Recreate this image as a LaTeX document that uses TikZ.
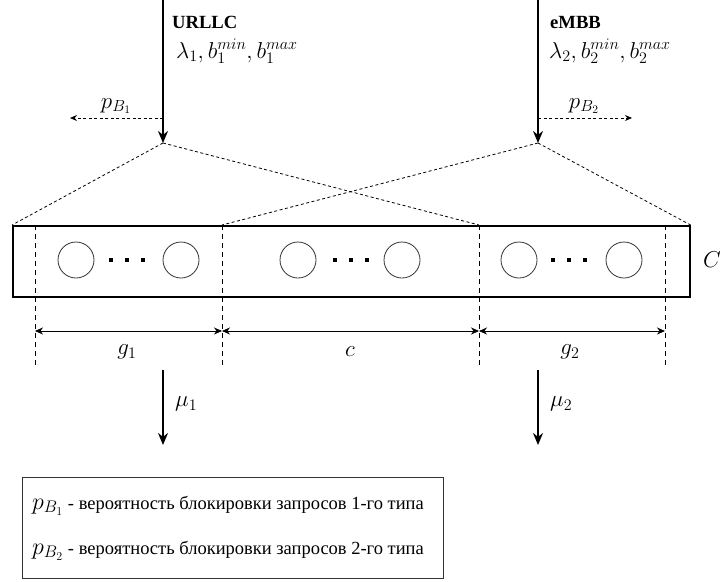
\documentclass[tikz,border=0pt]{standalone}
\usepackage{fix-cm}
\usepackage[no-math]{fontspec}
\setmainfont{Liberation Serif}
\usetikzlibrary{arrows.meta}
\begin{document}
\begin{tikzpicture}[x=1pt,y=-1pt,
  flow/.style={line width=1.7pt,-{Stealth[length=12pt,width=10pt]}},
  loss/.style={line width=0.8pt,dash pattern=on 3pt off 2.5pt,-{Stealth[length=7pt,width=6pt]}},
  funnel/.style={line width=0.8pt,dash pattern=on 3pt off 2.5pt},
  guide/.style={line width=1pt,dash pattern=on 5pt off 4pt},
  dim/.style={line width=0.8pt,{Stealth[length=8pt,width=7pt]}-{Stealth[length=8pt,width=7pt]}},
  server/.style={circle,draw=black!80,line width=0.8pt,minimum size=36pt,inner sep=0pt},
  dot/.style={rectangle,fill=black,minimum size=3.6pt,inner sep=0pt},
  mathlbl/.style={inner sep=0pt,font=\fontsize{23}{27}\selectfont},
  title/.style={inner sep=0pt,anchor=base west,font=\fontsize{18.6}{22}\selectfont\bfseries},
  legendtxt/.style={inner sep=0pt,anchor=base west,font=\fontsize{18.5}{22}\selectfont}]
\useasboundingbox (0,0) rectangle (720,581);

% incoming flows
\coordinate (in1) at (163,0);
\coordinate (in2) at (538,0);
\coordinate (apex1) at (163,143);
\coordinate (apex2) at (538,143);
\draw[flow] (in1) -- (apex1);
\draw[flow] (in2) -- (apex2);
\node[title] (t1) at (172,28) {URLLC};
\node[title] (t2) at (550,28) {eMBB};
\node[mathlbl,anchor=base west] (par1) at (176,58) {$\lambda_1, b_1^{min}, b_1^{max}$};
\node[mathlbl,anchor=base west] (par2) at (549,58) {$\lambda_2, b_2^{min}, b_2^{max}$};

% blocked requests
\coordinate (b1s) at (163,118);
\coordinate (b1e) at (70,118);
\coordinate (b2s) at (538,118);
\coordinate (b2e) at (632,118);
\draw[loss] (b1s) -- (b1e);
\draw[loss] (b2s) -- (b2e);
\node[mathlbl] (pb1) at (116,106) {$p_{B_1}$};
\node[mathlbl] (pb2) at (584,106) {$p_{B_2}$};

% resource pool
\node[draw,line width=1.6pt,minimum width=677pt,minimum height=71pt,inner sep=0pt,anchor=north west] (pool) at (12,225) {};
\node[mathlbl] (cap) at (712,260) {$C$};

\coordinate (d1t) at (35,225);  \coordinate (d1b) at (35,365);
\coordinate (d2t) at (222,225); \coordinate (d2b) at (222,365);
\coordinate (d3t) at (479,225); \coordinate (d3b) at (479,365);
\coordinate (d4t) at (665,225); \coordinate (d4b) at (665,365);
\foreach \a/\b in {d1t/d1b,d2t/d2b,d3t/d3b,d4t/d4b} \draw[guide] (\a) -- (\b);

\draw[funnel] (apex1) -- (pool.north west);
\draw[funnel] (apex1) -- (d3t);
\draw[funnel] (apex2) -- (d2t);
\draw[funnel] (apex2) -- (pool.north east);

% servers
\node[server] (s1) at (76,260) {};
\node[server] (s2) at (181,260) {};
\node[server] (s3) at (298,260) {};
\node[server] (s4) at (402,260) {};
\node[server] (s5) at (519,260) {};
\node[server] (s6) at (624,260) {};
\foreach \x [count=\i] in {111,127,143,335,351,367,553,569,585}
  \node[dot] (dot\i) at (\x,260) {};

% dimensions
\coordinate (m1) at (35,331);
\coordinate (m2) at (222,331);
\coordinate (m3) at (479,331);
\coordinate (m4) at (665,331);
\draw[dim] (m1) -- (m2);
\draw[dim] (m2) -- (m3);
\draw[dim] (m3) -- (m4);
\node[mathlbl] (g1) at (127,352) {$g_1$};
\node[mathlbl] (cc) at (350,352) {$c$};
\node[mathlbl] (g2) at (570,352) {$g_2$};

% service
\coordinate (o1s) at (163,370); \coordinate (o1e) at (163,445);
\coordinate (o2s) at (538,370); \coordinate (o2e) at (538,445);
\draw[flow] (o1s) -- (o1e);
\draw[flow] (o2s) -- (o2e);
\node[mathlbl,anchor=west] (mu1) at (175,404) {$\mu_1$};
\node[mathlbl,anchor=west] (mu2) at (550,404) {$\mu_2$};

% legend
\node[draw=black!80,line width=1pt,minimum width=421pt,minimum height=101pt,inner sep=0pt,anchor=north west] (legend) at (22,477) {};
\node[legendtxt] (l1) at (32,509) {\fontsize{24}{26}\selectfont$p_{B_1}$\fontsize{18.5}{22}\selectfont\ - вероятность блокировки запросов 1-го типа};
\node[legendtxt] (l2) at (32,554) {\fontsize{24}{26}\selectfont$p_{B_2}$\fontsize{18.5}{22}\selectfont\ - вероятность блокировки запросов 2-го типа};
\end{tikzpicture}
\end{document}
